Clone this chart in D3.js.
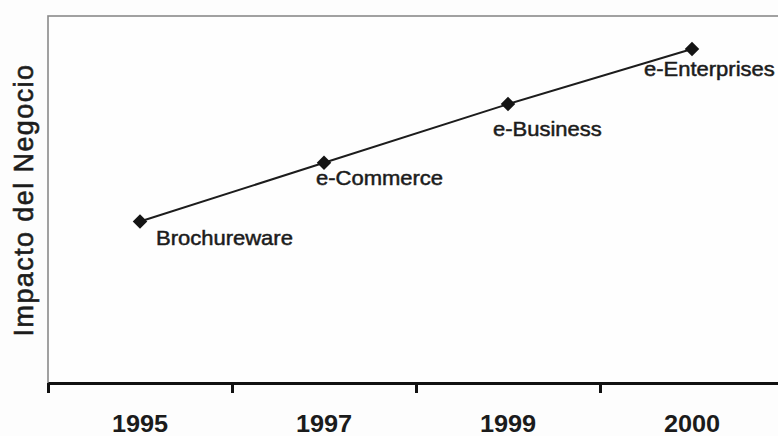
<!DOCTYPE html>
<html>
<head>
<meta charset="utf-8">
<script src="https://cdn.jsdelivr.net/npm/d3@7"></script>
<style>
  html, body { margin: 0; padding: 0; background: #fdfdfd; }
  svg { display: block; }
  text { font-family: "Liberation Sans", Arial, Helvetica, sans-serif; fill: #1b1b1b; }
</style>
</head>
<body>
<svg id="chart" width="778" height="436"></svg>
<script>
// Stages of e-business evolution and their business impact
const years = ["1995", "1997", "1999", "2000"];
const stages = ["Brochureware", "e-Commerce", "e-Business", "e-Enterprises"];
const impact = [4.4, 6.0, 7.6, 9.1];
const yAxisTitle = "Impacto del Negocio";

const width = 778, height = 436;
const plot = { left: 48, top: 16, right: 784, bottom: 383 };

// label placement relative to each marker
const labelOffset = {
  "Brochureware": [16, 23],
  "e-Commerce": [-8, 22],
  "e-Business": [-15, 32],
  "e-Enterprises": [-48, 27]
};

const svg = d3.select("#chart");

const x = d3.scaleBand().domain(years).range([plot.left, plot.right]).padding(0);
const xEdge = d3.scaleLinear().domain([0, years.length]).range([plot.left, plot.right]);
const y = d3.scaleLinear().domain([0, 10]).range([plot.bottom, plot.top]);

// plot frame
svg.append("rect")
  .attr("x", plot.left).attr("y", plot.top)
  .attr("width", plot.right - plot.left + 10)
  .attr("height", plot.bottom - plot.top)
  .attr("fill", "#fefefe")
  .attr("stroke", "#8a8a8a")
  .attr("stroke-width", 1.6);

// bottom axis: heavy baseline with ticks at category boundaries
const edgeAxis = svg.append("g")
  .attr("transform", `translate(0,${plot.bottom})`)
  .call(d3.axisBottom(xEdge).ticks(years.length).tickSize(10).tickFormat("").tickSizeOuter(0));
edgeAxis.select(".domain").attr("stroke", "#111").attr("stroke-width", 3);
edgeAxis.selectAll(".tick line").attr("stroke", "#111").attr("stroke-width", 3);

// year labels centred in each category band
const yearAxis = svg.append("g")
  .attr("transform", `translate(0,${plot.bottom})`)
  .call(d3.axisBottom(x).tickSize(0).tickPadding(0));
yearAxis.select(".domain").remove();
yearAxis.selectAll(".tick text")
  .attr("y", 0)
  .attr("dy", 0)
  .attr("transform", "translate(0,49) scale(1.1,1)")
  .attr("font-size", 23)
  .attr("font-weight", "bold")
  .attr("fill", "#161616")
  .style("font-family", "'Liberation Sans', Arial, sans-serif");

// y axis title
svg.append("text")
  .attr("transform", `translate(33,${(62 + 338) / 2}) rotate(-90)`)
  .attr("text-anchor", "middle")
  .attr("font-size", 27)
  .attr("letter-spacing", 1.4)
  .attr("fill", "#262626")
  .attr("stroke", "#262626")
  .attr("stroke-width", 0.6)
  .text(yAxisTitle);

const pts = years.map((yr, i) => ({ year: yr, stage: stages[i], value: impact[i] }));

// trend line
svg.append("path")
  .datum(pts)
  .attr("fill", "none")
  .attr("stroke", "#1c1c1c")
  .attr("stroke-width", 2)
  .attr("d", d3.line()
    .x(d => x(d.year) + x.bandwidth() / 2)
    .y(d => y(d.value)));

// diamond markers
svg.selectAll(".marker")
  .data(pts)
  .join("path")
  .attr("class", "marker")
  .attr("d", d3.symbol(d3.symbolSquare, 105))
  .attr("fill", "#141414")
  .attr("transform", d => `translate(${x(d.year) + x.bandwidth() / 2},${y(d.value)}) rotate(45)`);

// stage labels
svg.selectAll(".stage")
  .data(pts)
  .join("text")
  .attr("class", "stage")
  .attr("font-size", 20)
  .attr("fill", "#1e1e1e")
  .attr("stroke", "#1e1e1e")
  .attr("stroke-width", 0.5)
  .attr("transform", d => {
    const [dx, dy] = labelOffset[d.stage];
    return `translate(${x(d.year) + x.bandwidth() / 2 + dx},${y(d.value) + dy}) scale(1.1,1)`;
  })
  .text(d => d.stage);
</script>
</body>
</html>
